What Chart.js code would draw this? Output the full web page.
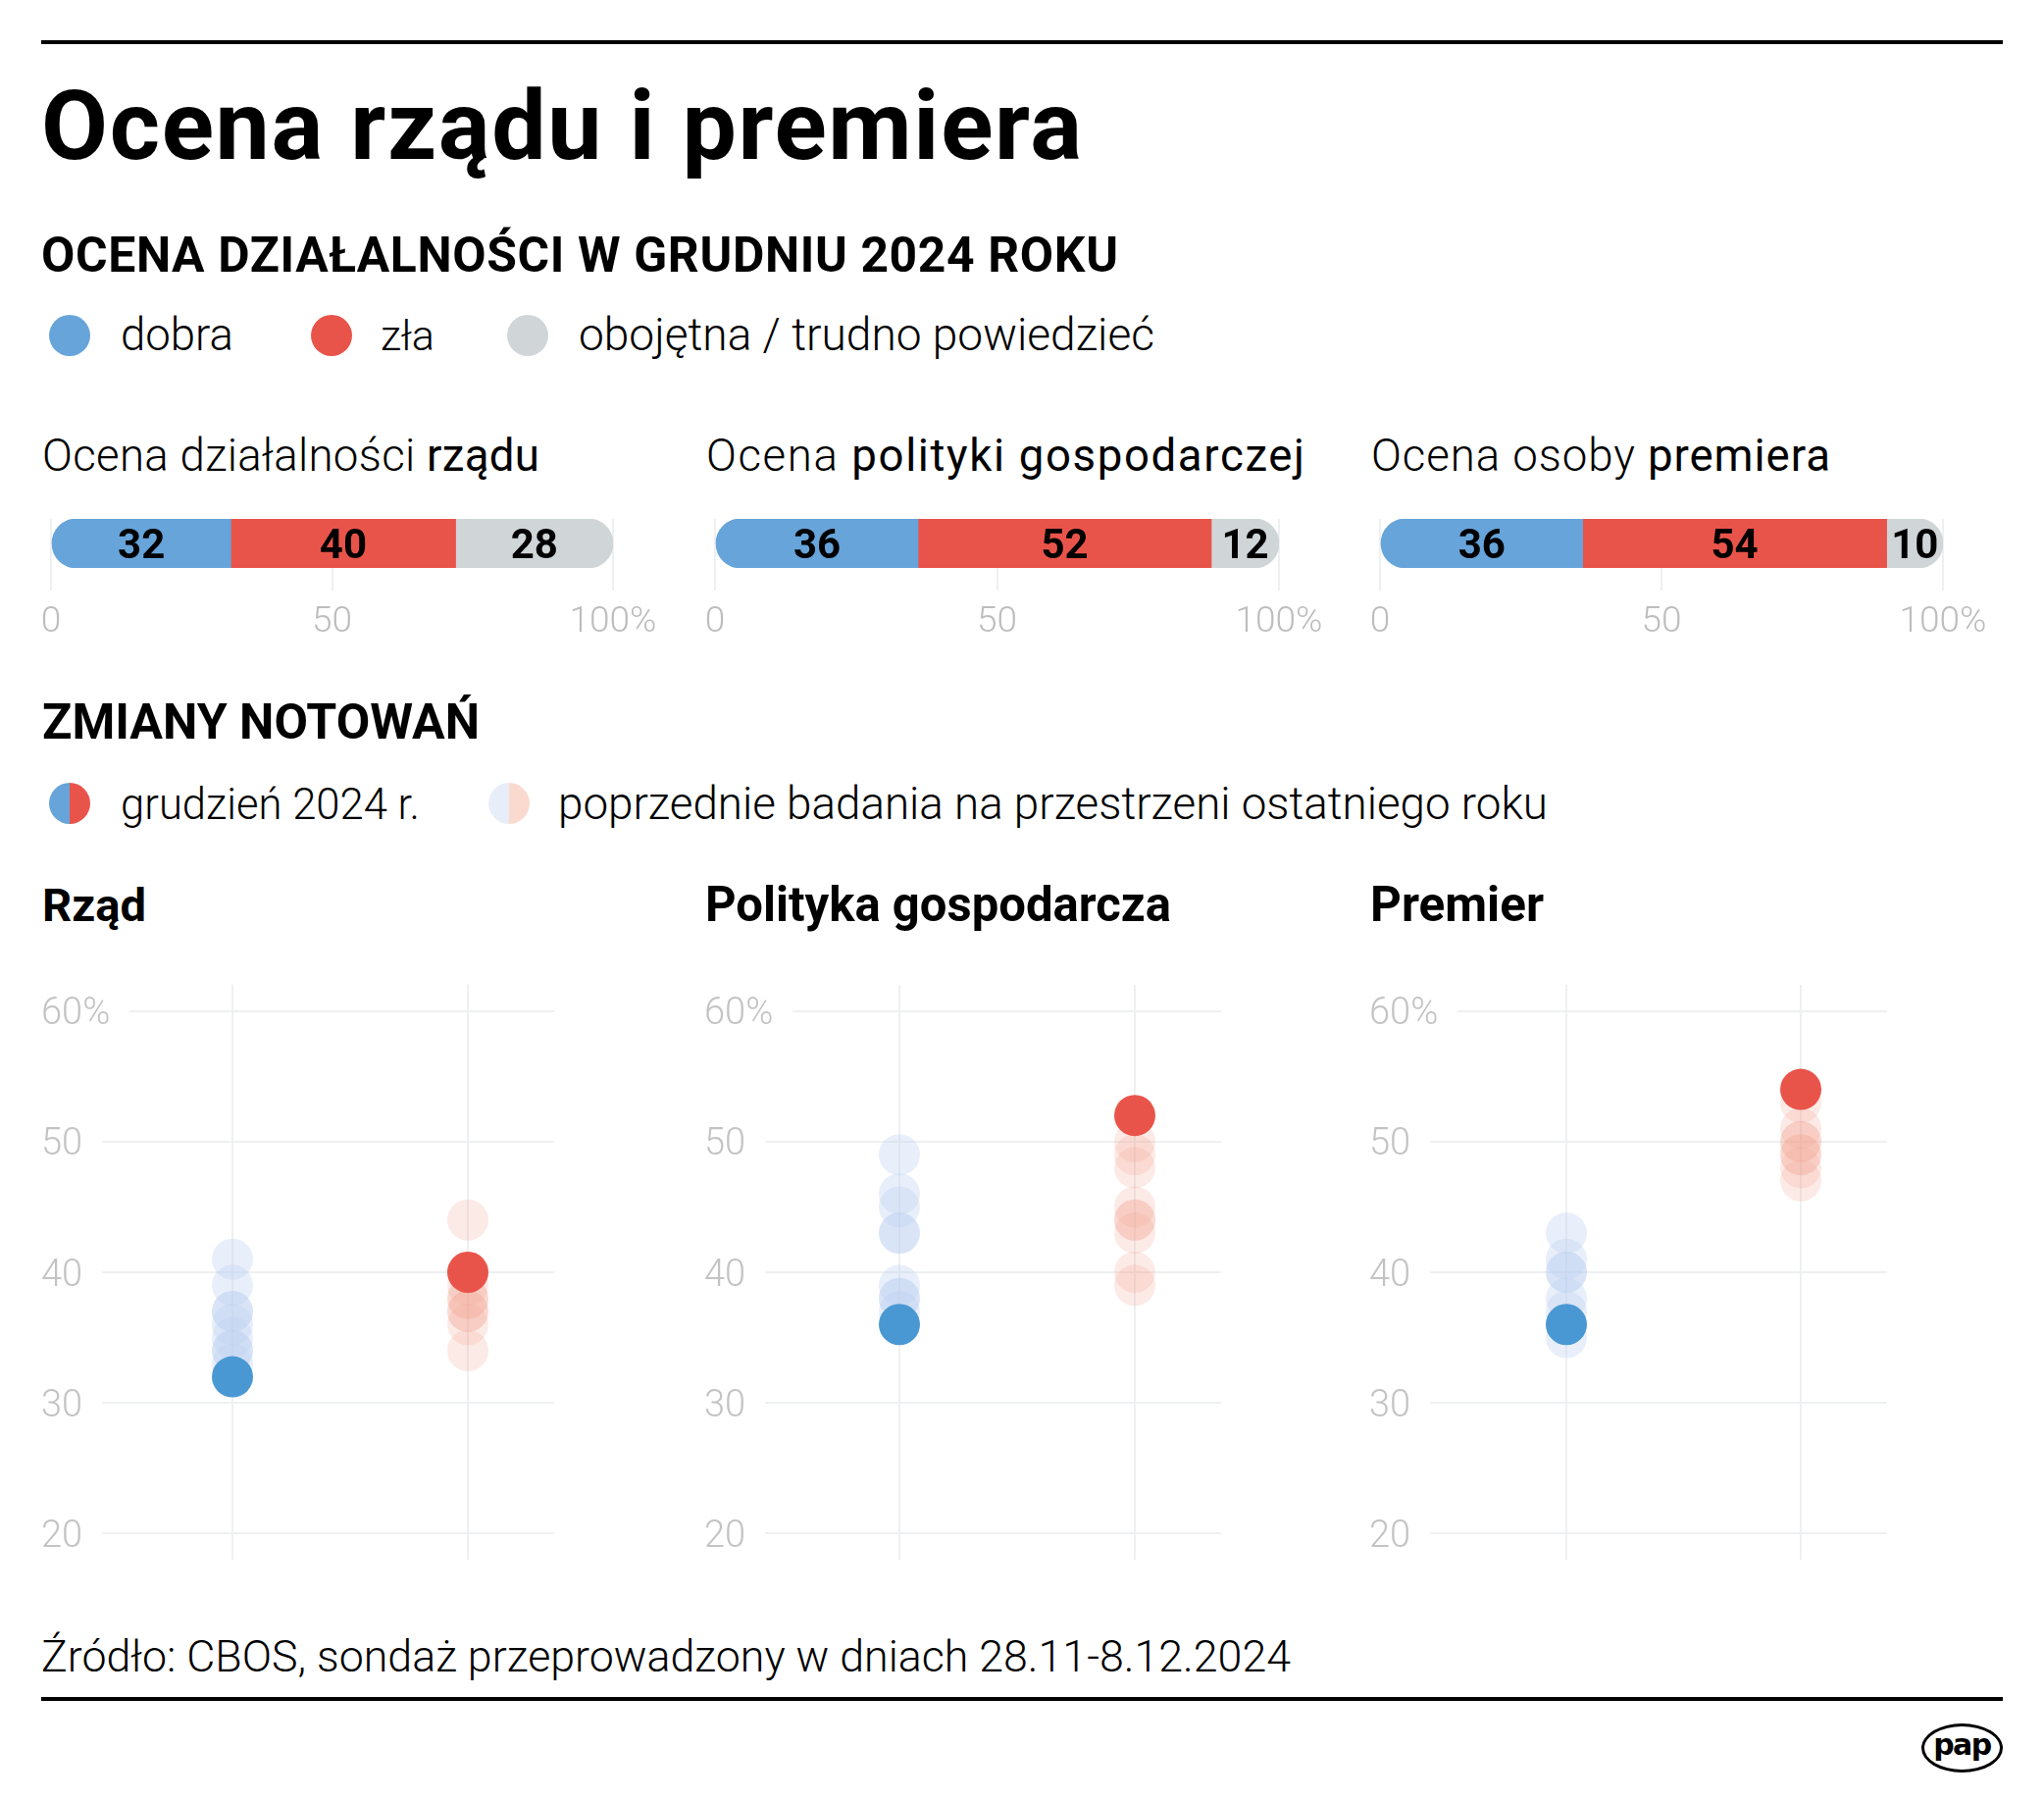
<!DOCTYPE html>
<html lang="pl">
<head>
<meta charset="utf-8">
<title>Ocena rządu i premiera</title>
<script src="https://cdn.jsdelivr.net/npm/chart.js@4.4.1/dist/chart.umd.min.js"></script>
<style>
html,body{margin:0;padding:0;background:#fff}
body{width:2084px;height:1834px;position:relative;overflow:hidden;font-family:Roboto,"Noto Sans",sans-serif;color:#000}
.t{position:absolute;white-space:nowrap;line-height:1.2;margin:0}
.b{font-weight:700}
.l{font-weight:300}
.rule{position:absolute;left:42px;width:2000px;height:4px;background:#000}
.dot{position:absolute;width:42px;height:42px;border-radius:50%}
canvas{position:absolute}
#pap{position:absolute;left:1959px;top:1757px;width:83px;height:50px;box-sizing:border-box;border:3px solid #000;border-radius:50%;display:flex;align-items:center;justify-content:center;font-family:"DejaVu Sans",sans-serif;font-weight:700;font-size:30px;letter-spacing:-1.5px;line-height:1;padding-bottom:6px}
</style>
</head>
<body>
<div class="rule" style="top:41px"></div>
<div class="t b" data-x="42" data-base="162" data-w="1061" style="font-size:93px">Ocena rządu i premiera</div>
<div class="t b" data-x="42" data-base="277" data-w="1098" style="font-size:47px">OCENA DZIAŁALNOŚCI W GRUDNIU 2024 ROKU</div>

<div class="dot" style="left:50px;top:321px;background:#66a4da"></div>
<div class="t l" data-x="123" data-base="357" data-w="115" style="font-size:46px">dobra</div>
<div class="dot" style="left:317px;top:321px;background:#e9544a"></div>
<div class="t l" data-x="388" data-base="357" data-w="55" style="font-size:46px">zła</div>
<div class="dot" style="left:517px;top:321px;background:#d0d5d8"></div>
<div class="t l" data-x="590" data-base="357" data-w="587" style="font-size:46px">obojętna / trudno powiedzieć</div>

<div class="t l" data-x="43" data-base="480" data-w="507" style="font-size:43px">Ocena działalności <b>rządu</b></div>
<div class="t l" data-x="720" data-base="480" data-w="610" style="font-size:43px">Ocena <b>polityki gospodarczej</b></div>
<div class="t l" data-x="1398" data-base="480" data-w="468" style="font-size:43px">Ocena osoby <b>premiera</b></div>

<canvas id="bar0"></canvas>
<canvas id="bar1"></canvas>
<canvas id="bar2"></canvas>

<div class="t b" data-x="43" data-base="753" data-w="446" style="font-size:50px">ZMIANY NOTOWAŃ</div>
<div class="dot" style="left:50px;top:798px;background:linear-gradient(90deg,#66a4da 50%,#e9544a 50%)"></div>
<div class="t l" data-x="123" data-base="835" data-w="305" style="font-size:46px">grudzień 2024 r.</div>
<div class="dot" style="left:498px;top:798px;background:linear-gradient(90deg,#e7eef9 50%,#fad9cf 50%)"></div>
<div class="t l" data-x="569" data-base="835" data-w="1009" style="font-size:46px">poprzednie badania na przestrzeni ostatniego roku</div>

<div class="t b" data-x="43" data-base="939" data-w="106" style="font-size:47px">Rząd</div>
<div class="t b" data-x="719" data-base="939" data-w="475" style="font-size:47px">Polityka gospodarcza</div>
<div class="t b" data-x="1397" data-base="939" data-w="177" style="font-size:47px">Premier</div>

<canvas id="dot0"></canvas>
<canvas id="dot1"></canvas>
<canvas id="dot2"></canvas>

<div class="t l" data-x="42" data-base="1704" data-w="1274" style="font-size:45px">Źródło: CBOS, sondaż przeprowadzony w dniach 28.11-8.12.2024</div>
<div class="rule" style="top:1730px"></div>
<div id="pap">pap</div>

<script>
// ---------- DATA ----------
const barCategories = ['dobra', 'zła', 'obojętna / trudno powiedzieć'];
const barPanels = ['Ocena działalności rządu', 'Ocena polityki gospodarczej', 'Ocena osoby premiera'];
const dobraDec = [32, 36, 36];
const zlaDec = [40, 52, 54];
const obojetnaDec = [28, 12, 10];
const barTickValues = [0, 50, 100];
const barTickLabels = ['0', '50', '100%'];

const dotPanels = ['Rząd', 'Polityka gospodarcza', 'Premier'];
const dotTickValues = [20, 30, 40, 50, 60];
const dotTickLabels = ['20', '30', '40', '50', '60%'];
const rzadDobraPrev = [41, 39, 37, 37, 36, 35, 34, 34, 33];
const rzadZlaPrev = [44, 40, 39, 38, 38, 37, 37, 36, 34];
const gospDobraPrev = [49, 46, 45, 43, 43, 39, 38, 38, 37];
const gospZlaPrev = [50, 49, 48, 45, 44, 44, 43, 40, 39];
const premDobraPrev = [43, 41, 40, 40, 38, 37, 36, 35];
const premZlaPrev = [53, 51, 50, 50, 49, 48, 47, 49];

// ---------- STYLE / LAYOUT ----------
const COL = {
  blue: '#66a4da', red: '#e9544a', gray: '#d0d5d8',
  dotBlue: '#4a98d3', dotRed: '#e9544a',
  prevBlue: 'rgba(190,210,240,0.35)', prevRed: 'rgba(240,165,145,0.23)',
  grid: '#eef0f1', tick: '#bdbdbd', dotTick: '#c3c3c3'
};
const barLayout = { x0: [52, 729, 1407], w: [573, 575, 574], top: 500, padL: 40, padR: 60, padT: 29, axisH: 80 };
// panel left edge (labels), right edge of plot, pixel positions of the two columns
const dotLayout = { x0: [42, 718, 1396], right: [565, 1245, 1924], colPx: [[237, 477], [917, 1157], [1597, 1836]],
                    top: 978, h: 638, pad: 26, yAxisW: 110 };

function layoutText(el) {
  const x = +el.dataset.x, base = +el.dataset.base, target = +el.dataset.w;
  el.style.left = x + 'px'; el.style.top = '0px'; el.style.letterSpacing = '0px';
  let fs = parseFloat(el.style.fontSize);
  let w0 = el.getBoundingClientRect().width;
  const f = Math.min(1.06, Math.max(0.94, target / w0));
  el.style.fontSize = (fs * f) + 'px';
  w0 = el.getBoundingClientRect().width;
  const n = el.textContent.length;
  el.style.letterSpacing = ((target - w0) / Math.max(1, n - 1)) + 'px';
  const m = document.createElement('span');
  m.style.cssText = 'display:inline-block;width:0;height:0;vertical-align:baseline';
  el.appendChild(m);
  const off = m.getBoundingClientRect().bottom - el.getBoundingClientRect().top;
  el.removeChild(m);
  el.style.top = (base - off) + 'px';
}
document.querySelectorAll('.t').forEach(layoutText);

Chart.defaults.font.family = 'Roboto';

const barLabelPlugin = {
  id: 'barLabels',
  afterDatasetsDraw(chart) {
    const ctx = chart.ctx;
    ctx.save();
    ctx.font = '700 42px Roboto';
    ctx.fillStyle = '#000';
    ctx.textAlign = 'center';
    ctx.textBaseline = 'alphabetic';
    chart.data.datasets.forEach((ds, di) => {
      chart.getDatasetMeta(di).data.forEach((el, j) => {
        const p = el.getProps(['x', 'y', 'base'], true);
        ctx.fillText(String(ds.data[j]), (p.x + p.base) / 2, p.y + 15);
      });
    });
    ctx.restore();
  }
};

for (let i = 0; i < 3; i++) {
  const cv = document.getElementById('bar' + i);
  const W = barLayout.w[i] + barLayout.padL + barLayout.padR;
  const H = barLayout.padT + 50 + barLayout.axisH;
  cv.width = W; cv.height = H;
  cv.style.left = (barLayout.x0[i] - barLayout.padL) + 'px';
  cv.style.top = barLayout.top + 'px';
  cv.style.width = W + 'px'; cv.style.height = H + 'px';
  new Chart(cv, {
    type: 'bar',
    data: {
      labels: [barPanels[i]],
      datasets: [
        { label: barCategories[0], data: [dobraDec[i]], backgroundColor: COL.blue, borderSkipped: false,
          borderRadius: { topLeft: 25, bottomLeft: 25, topRight: 0, bottomRight: 0 } },
        { label: barCategories[1], data: [zlaDec[i]], backgroundColor: COL.red, borderSkipped: false, borderRadius: 0 },
        { label: barCategories[2], data: [obojetnaDec[i]], backgroundColor: COL.gray, borderSkipped: false,
          borderRadius: { topLeft: 0, bottomLeft: 0, topRight: 25, bottomRight: 25 } }
      ]
    },
    options: {
      indexAxis: 'y', responsive: false, animation: false, events: [], devicePixelRatio: 1,
      layout: { autoPadding: false, padding: { left: barLayout.padL, right: barLayout.padR, top: barLayout.padT, bottom: 0 } },
      datasets: { bar: { barPercentage: 1, categoryPercentage: 1 } },
      plugins: { legend: { display: false }, tooltip: { enabled: false } },
      scales: {
        x: {
          type: 'linear', stacked: true, min: 0, max: 100,
          afterBuildTicks: s => { s.ticks = barTickValues.map(v => ({ value: v })); },
          afterFit: s => { s.height = barLayout.axisH; },
          ticks: { callback: v => barTickLabels[barTickValues.indexOf(v)], autoSkip: false, maxRotation: 0,
                   font: { family: 'Roboto', weight: 300, size: 37 }, color: COL.tick, padding: 11 },
          grid: { color: COL.grid, tickColor: COL.grid, lineWidth: 2, tickWidth: 2, tickLength: 23, drawTicks: true },
          border: { display: false }
        },
        y: { stacked: true, display: false }
      }
    },
    plugins: [barLabelPlugin]
  });
}

const hGridPlugin = {
  id: 'hGrid',
  beforeDatasetsDraw(chart) {
    const ctx = chart.ctx, ys = chart.scales.y, ca = chart.chartArea;
    ctx.save();
    ctx.font = '300 38px Roboto';
    ctx.strokeStyle = COL.grid; ctx.lineWidth = 2;
    ys.ticks.forEach(t => {
      const py = Math.round(ys.getPixelForValue(t.value));
      const w = ctx.measureText(dotTickLabels[dotTickValues.indexOf(t.value)]).width;
      const x1 = ys.left + w + 20;
      ctx.beginPath(); ctx.moveTo(x1, py); ctx.lineTo(ca.right, py); ctx.stroke();
    });
    ctx.restore();
  }
};

const prevDobra = [rzadDobraPrev, gospDobraPrev, premDobraPrev];
const prevZla = [rzadZlaPrev, gospZlaPrev, premZlaPrev];

for (let i = 0; i < 3; i++) {
  const cv = document.getElementById('dot' + i);
  const W = dotLayout.right[i] - dotLayout.x0[i];
  const H = dotLayout.h;
  cv.width = W; cv.height = H;
  cv.style.left = dotLayout.x0[i] + 'px';
  cv.style.top = dotLayout.top + 'px';
  cv.style.width = W + 'px'; cv.style.height = H + 'px';
  // x-range so that the two columns land where the reference has them
  const L = dotLayout.x0[i] + dotLayout.yAxisW, R = dotLayout.right[i];
  const [c0, c1] = dotLayout.colPx[i];
  const unit = c1 - c0;
  const xMin = -(c0 - L) / unit, xMax = 1 + (R - c1) / unit;
  new Chart(cv, {
    type: 'scatter',
    data: {
      datasets: [
        { label: 'dobra – grudzień 2024', data: [{ x: 0, y: dobraDec[i] }], backgroundColor: COL.dotBlue },
        { label: 'zła – grudzień 2024', data: [{ x: 1, y: zlaDec[i] }], backgroundColor: COL.dotRed },
        { label: 'dobra – poprzednie', data: prevDobra[i].map(v => ({ x: 0, y: v })), backgroundColor: COL.prevBlue },
        { label: 'zła – poprzednie', data: prevZla[i].map(v => ({ x: 1, y: v })), backgroundColor: COL.prevRed }
      ]
    },
    options: {
      responsive: false, animation: false, events: [], devicePixelRatio: 1,
      layout: { autoPadding: false, padding: { top: dotLayout.pad, bottom: dotLayout.pad, left: 0, right: 0 } },
      elements: { point: { radius: 21, hoverRadius: 21, borderWidth: 0, pointStyle: 'circle' } },
      datasets: { scatter: { clip: false } },
      plugins: { legend: { display: false }, tooltip: { enabled: false } },
      scales: {
        x: {
          type: 'linear', min: xMin, max: xMax,
          afterBuildTicks: s => { s.ticks = [{ value: 0 }, { value: 1 }]; },
          afterFit: s => { s.height = 0; },
          ticks: { display: false },
          grid: { color: COL.grid, lineWidth: 2, drawTicks: false },
          border: { display: false }
        },
        y: {
          type: 'linear', min: 18, max: 62,
          afterBuildTicks: s => { s.ticks = dotTickValues.map(v => ({ value: v })); },
          afterFit: s => { s.width = dotLayout.yAxisW; },
          ticks: { callback: v => dotTickLabels[dotTickValues.indexOf(v)], crossAlign: 'far', padding: 0, labelOffset: 4,
                   font: { family: 'Roboto', weight: 300, size: 38 }, color: COL.dotTick },
          grid: { display: false },
          border: { display: false }
        }
      }
    },
    plugins: [hGridPlugin]
  });
}
</script>
</body>
</html>
